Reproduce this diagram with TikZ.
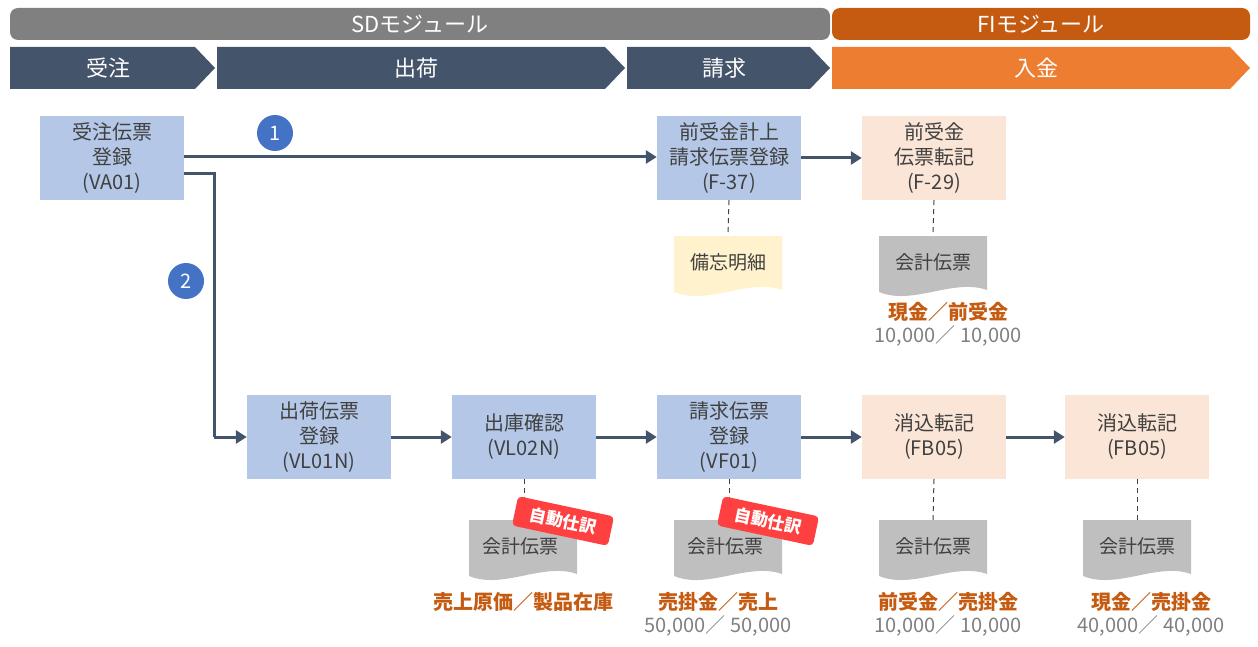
\documentclass[tikz,border=0pt]{standalone}
\usepackage{fontspec}
\setmainfont{Noto Sans CJK JP}
\usetikzlibrary{arrows.meta}
\definecolor{navy}{HTML}{44546A}
\definecolor{boxb}{HTML}{B4C7E7}
\definecolor{boxo}{HTML}{FBE5D6}
\definecolor{orgd}{HTML}{C55A11}
\definecolor{orgl}{HTML}{ED7D31}
\definecolor{docg}{HTML}{BFBFBF}
\definecolor{memo}{HTML}{FFF2CC}
\definecolor{txt}{HTML}{404040}
\definecolor{circ}{HTML}{4472C4}
\begin{document}
\begin{tikzpicture}[x=1pt,y=-1pt,
 box/.style={fill=boxb,minimum width=144pt,minimum height=84pt,inner sep=0pt,align=center,font=\fontsize{20}{25}\selectfont,text=txt},
 fbox/.style={box,fill=boxo},
 arr/.style={draw=navy,line width=3pt,-{Triangle[length=11pt,width=13pt]}},
 dsh/.style={draw=txt,line width=1pt,dash pattern=on 5pt off 4pt},
 num/.style={circle,fill=circ,text=white,minimum size=36pt,inner sep=0pt,font=\fontsize{20}{22}\selectfont},
 acc/.style={font=\bfseries\fontsize{20}{22}\selectfont,text=orgd},
 amt/.style={font=\fontsize{20}{22}\selectfont,text=gray},
 hd/.style={text=white,font=\fontsize{22}{24}\selectfont},
 dtx/.style={font=\fontsize{19}{22}\selectfont,text=txt},
 badge/.style={fill=red!75!white,text=white,rounded corners=4pt,font=\bfseries\fontsize{17}{19}\selectfont,minimum width=98pt,minimum height=30pt,inner sep=0pt,rotate=-12}]
\useasboundingbox (0,0) rectangle (1258,647);
% header bars
\fill[gray,rounded corners=8pt] (10,8) rectangle (830,40);
\node[hd] (sd) at (420,24) {SDモジュール};
\fill[orgd,rounded corners=8pt] (832,8) rectangle (1250,40);
\node[hd] (fi) at (1041,24) {FIモジュール};
\fill[navy] (10,47) -- (195,47) -- (215,68) -- (195,89) -- (10,89) -- cycle;
\fill[navy] (217,47) -- (605,47) -- (625,68) -- (605,89) -- (217,89) -- cycle;
\fill[navy] (627,47) -- (810,47) -- (830,68) -- (810,89) -- (627,89) -- cycle;
\fill[orgl] (832,47) -- (1230,47) -- (1250,68) -- (1230,89) -- (832,89) -- cycle;
\node[hd] (h1) at (108,68) {受注};
\node[hd] (h2) at (416,68) {出荷};
\node[hd] (h3) at (724,68) {請求};
\node[hd] (h4) at (1036,68) {入金};
% boxes
\node[box] (va) at (112,158) {受注伝票\\登録\\(VA01)};
\node[box] (f37) at (729,158) {前受金計上\\請求伝票登録\\(F-37)};
\node[fbox] (f29) at (934,158) {前受金\\伝票転記\\(F-29)};
\node[box] (vl1) at (319,437) {出荷伝票\\登録\\(VL01N)};
\node[box] (vl2) at (524,437) {出庫確認\\(VL02N)};
\node[box] (vf) at (729,437) {請求伝票\\登録\\(VF01)};
\node[fbox] (fb1) at (934,437) {消込転記\\(FB05)};
\node[fbox] (fb2) at (1137,437) {消込転記\\(FB05)};
% arrows
\coordinate (c1) at (214,174);
\coordinate (c2) at (214,437);
\draw[arr] (va.east |- 0,157) -- (f37.west |- 0,157);
\draw[arr] (f37) -- (f29);
\draw[arr,-] (va.east |- c1) -- (c1) -- (c2);
\draw[arr] (c2) -- (vl1);
\draw[arr] (vl1) -- (vl2);
\draw[arr] (vl2) -- (vf);
\draw[arr] (vf) -- (fb1);
\draw[arr] (fb1) -- (fb2);
\node[num] (n1) at (275,133) {1};
\node[num] (n2) at (186,281) {2};
% documents
\newcommand{\docshape}[3]{%
 \fill[#3] (#1-54,#2-30) -- (#1+54,#2-30) -- (#1+54,#2+24) .. controls (#1+20,#2+12) and (#1-20,#2+40) .. (#1-54,#2+26) -- cycle;
}
\docshape{933}{266}{docg}
\node[dtx] (d0) at (933,262) {会計伝票};
\docshape{728}{266}{memo}
\node[dtx] (m0) at (728,262) {備忘明細};
\docshape{523}{550}{docg}
\node[dtx] (d1) at (520,546) {会計伝票};
\docshape{728}{550}{docg}
\node[dtx] (d2) at (725,546) {会計伝票};
\docshape{933}{550}{docg}
\node[dtx] (d3) at (933,546) {会計伝票};
\docshape{1137}{550}{docg}
\node[dtx] (d4) at (1137,546) {会計伝票};
\draw[dsh] (f37.south) -- (728,236);
\draw[dsh] (f29.south) -- (933,236);
\draw[dsh] (vl2.south) -- (524,520);
\draw[dsh] (vf.south) -- (729,520);
\draw[dsh] (fb1.south) -- (933,520);
\draw[dsh] (fb2.south) -- (1137,520);
\node[badge] (b1) at (563,521) {自動仕訳};
\node[badge] (b2) at (768,521) {自動仕訳};
% labels
\node[acc] (a0) at (948,312) {現金／前受金};
\node[amt] (m1) at (948,336) {10,000／ 10,000};
\node[acc] (a1) at (523,602) {売上原価／製品在庫};
\node[acc] (a2) at (718,602) {売掛金／売上};
\node[amt] (a2m) at (718,626) {50,000／ 50,000};
\node[acc] (a3) at (948,602) {前受金／売掛金};
\node[amt] (a3m) at (948,626) {10,000／ 10,000};
\node[acc] (a4) at (1151,602) {現金／売掛金};
\node[amt] (a4m) at (1151,626) {40,000／ 40,000};
\end{tikzpicture}
\end{document}
